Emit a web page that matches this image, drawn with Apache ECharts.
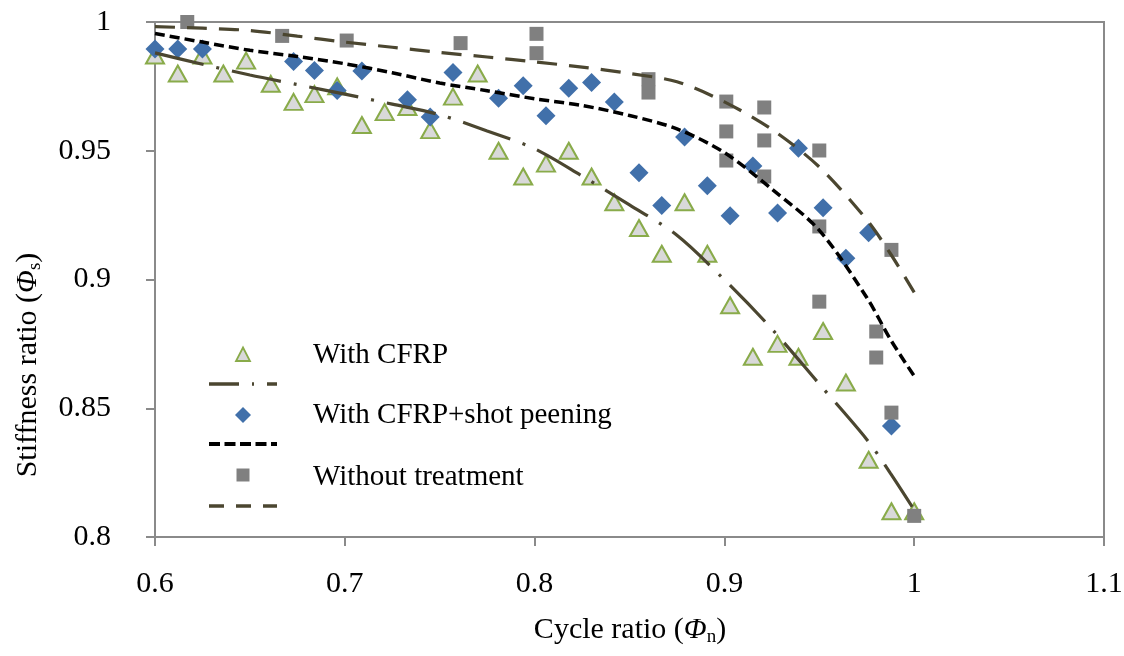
<!DOCTYPE html>
<html>
<head>
<meta charset="utf-8">
<script src="https://cdn.jsdelivr.net/npm/echarts@6/dist/echarts.min.js"></script>
<style>
html,body{margin:0;padding:0;background:#fff;}
#chart{width:1124px;height:656px;}
</style>
</head>
<body>
<div id="chart"></div>
<script>
// ---- Data ----
const xTicks = ['0.6', '0.7', '0.8', '0.9', '1', '1.1'];
const yTicks = ['0.8', '0.85', '0.9', '0.95', '1'];

const cfrpX = [0.600,0.612,0.625,0.636,0.648,0.661,0.673,0.684,0.696,0.709,0.721,0.733,0.745,0.757,0.770,0.781,0.794,0.806,0.818,0.830,0.842,0.855,0.867,0.879,0.891,0.903,0.915,0.928,0.939,0.952,0.964,0.976,0.988,1.000];
const cfrpY = [0.987,0.980,0.987,0.980,0.985,0.976,0.969,0.972,0.975,0.960,0.965,0.967,0.958,0.971,0.980,0.950,0.940,0.945,0.950,0.940,0.930,0.920,0.910,0.930,0.910,0.890,0.870,0.875,0.870,0.880,0.860,0.830,0.810,0.810];

const peenX = [0.600,0.612,0.625,0.673,0.684,0.696,0.709,0.733,0.745,0.757,0.781,0.794,0.806,0.818,0.830,0.842,0.855,0.867,0.879,0.891,0.903,0.915,0.928,0.939,0.952,0.964,0.976,0.988];
const peenY = [0.9895,0.9895,0.9895,0.9847,0.9812,0.9734,0.9810,0.9698,0.9631,0.9804,0.9704,0.9752,0.9636,0.9743,0.9765,0.9689,0.9415,0.9287,0.9553,0.9364,0.9248,0.9441,0.9258,0.9510,0.9279,0.9083,0.9182,0.8431];

const untreatedX = [0.617,0.667,0.701,0.761,0.801,0.801,0.860,0.860,0.901,0.901,0.901,0.921,0.921,0.921,0.950,0.950,0.950,0.980,0.980,0.988,0.988,1.000];
const untreatedY = [1.000,0.9946,0.9928,0.9918,0.9954,0.9879,0.9778,0.9726,0.9691,0.9575,0.9462,0.9668,0.9540,0.9400,0.9501,0.9206,0.8914,0.8798,0.8697,0.9115,0.8483,0.8082];

// fitted trend curves
const fitX         = [0.600, 0.625, 0.650, 0.675, 0.700, 0.725, 0.750, 0.775, 0.800, 0.825, 0.850, 0.875, 0.900, 0.925, 0.950, 0.975, 0.9875, 1.000];
const cfrpFit      = [0.9880, 0.9836, 0.9794, 0.9757, 0.9720, 0.9681, 0.9640, 0.9577, 0.9508, 0.9402, 0.9290, 0.9172, 0.8999, 0.8808, 0.8594, 0.8379, 0.8247, 0.8105];
const peenFit      = [0.9955, 0.9922, 0.9890, 0.9866, 0.9838, 0.9803, 0.9763, 0.9733, 0.9702, 0.9676, 0.9637, 0.9585, 0.9493, 0.9351, 0.9191, 0.8930, 0.8767, 0.8625];
const untreatedFit = [0.9982, 0.9976, 0.9967, 0.9945, 0.9922, 0.9902, 0.9882, 0.9864, 0.9845, 0.9825, 0.9800, 0.9768, 0.9690, 0.9583, 0.9437, 0.9232, 0.9100, 0.8950];

const legendNames = ['With CFRP', 'With CFRP+shot peening', 'Without treatment'];

// ---- Build ----
const zip = (xs, ys) => xs.map((x, i) => [x, ys[i]]);
const OLIVE = '#4b4630';
const AXIS = '#8a8a8a';
const FONT = '"Liberation Serif", "Times New Roman", serif';

const chart = echarts.init(document.getElementById('chart'), null, {renderer: 'canvas'});

const titleRich = {
  a: {fontFamily: FONT, fontSize: 30, fill: '#000'},
  b: {fontFamily: FONT, fontSize: 30, fontStyle: 'italic', fill: '#000'},
  c: {fontFamily: FONT, fontSize: 19, fill: '#000', padding: [15, 0, 0, 0]}
};

const option = {
  animation: false,
  backgroundColor: '#ffffff',
  grid: {
    left: 155, right: 20, top: 22, bottom: 119,
    show: true, borderColor: AXIS, borderWidth: 2,
    containLabel: false, outerBoundsMode: 'none'
  },
  xAxis: {
    type: 'value', min: 0.6, max: 1.1, interval: 0.1,
    axisLine: {show: true, onZero: false, lineStyle: {color: AXIS, width: 2}},
    axisTick: {show: true, inside: false, length: 9, lineStyle: {color: AXIS, width: 2}},
    splitLine: {show: false},
    axisLabel: {
      margin: 30, padding: [2, 0, 0, 0], color: '#000', fontFamily: FONT, fontSize: 30,
      formatter: v => xTicks[Math.round((v - 0.6) / 0.1)]
    }
  },
  yAxis: {
    type: 'value', min: 0.8, max: 1, interval: 0.05,
    axisLine: {show: true, onZero: false, lineStyle: {color: AXIS, width: 2}},
    axisTick: {show: true, inside: false, length: 9, lineStyle: {color: AXIS, width: 2}},
    splitLine: {show: false},
    axisLabel: {
      margin: 28, padding: [0, 16, 0, 0], color: '#000', fontFamily: FONT, fontSize: 30,
      formatter: v => yTicks[Math.round((v - 0.8) / 0.05)]
    }
  },
  series: [
    {
      name: legendNames[0], type: 'scatter', clip: false,
      data: zip(cfrpX, cfrpY),
      symbol: 'triangle', symbolSize: [18, 16],
      itemStyle: {color: '#d9d9d9', borderColor: '#89ab4a', borderWidth: 2, opacity: 1}
    },
    {
      name: 'CFRP fit', type: 'line', data: zip(fitX, cfrpFit),
      symbol: 'none', showSymbol: false, smooth: 0.3,
      lineStyle: {color: OLIVE, width: 3.2, type: [50, 13, 3, 13]}
    },
    {
      name: legendNames[1], type: 'scatter', clip: false,
      data: zip(peenX, peenY),
      symbol: 'diamond', symbolSize: [19, 19],
      itemStyle: {color: '#4170aa', opacity: 1}
    },
    {
      name: 'Peening fit', type: 'line', data: zip(fitX, peenFit),
      symbol: 'none', showSymbol: false, smooth: 0.3,
      lineStyle: {color: '#000000', width: 3.5, type: [10, 5]}
    },
    {
      name: legendNames[2], type: 'scatter', clip: false,
      data: zip(untreatedX, untreatedY),
      symbol: 'rect', symbolSize: [14, 14],
      itemStyle: {color: '#808080', opacity: 1}
    },
    {
      name: 'Untreated fit', type: 'line', data: zip(fitX, untreatedFit),
      symbol: 'none', showSymbol: false, smooth: 0.3,
      lineStyle: {color: OLIVE, width: 3.2, type: [20, 12]}
    }
  ],
  graphic: [
    // axis titles
    {
      type: 'text', x: 630, y: 630,
      style: {
        text: '{a|Cycle ratio (}{b|Φ}{c|n}{a|)}',
        align: 'center', verticalAlign: 'middle', rich: titleRich
      }
    },
    {
      type: 'text', x: 28, y: 365, rotation: Math.PI / 2,
      style: {
        text: '{a|Stiffness ratio (}{b|Φ}{c|s}{a|)}',
        align: 'center', verticalAlign: 'middle', rich: titleRich
      }
    },
    // legend
    {
      type: 'polygon', shape: {points: [[243, 347.5], [250, 361], [236, 361]]},
      style: {fill: '#d9d9d9', stroke: '#89ab4a', lineWidth: 1.8}
    },
    {
      type: 'text', x: 313, y: 355,
      style: {text: legendNames[0], fontFamily: FONT, fontSize: 29, fill: '#000', verticalAlign: 'middle'}
    },
    {
      type: 'line', shape: {x1: 209, y1: 384, x2: 277, y2: 384},
      style: {stroke: OLIVE, lineWidth: 3.5, lineDash: [30, 13, 2, 13]}
    },
    {
      type: 'polygon', shape: {points: [[243, 407], [251, 415], [243, 423], [235, 415]]},
      style: {fill: '#4170aa'}
    },
    {
      type: 'text', x: 313, y: 415,
      style: {text: legendNames[1], fontFamily: FONT, fontSize: 29, fill: '#000', verticalAlign: 'middle'}
    },
    {
      type: 'line', shape: {x1: 209, y1: 444, x2: 277, y2: 444},
      style: {stroke: '#000', lineWidth: 4, lineDash: [11, 4.5]}
    },
    {
      type: 'rect', shape: {x: 236.5, y: 468.5, width: 13, height: 13},
      style: {fill: '#808080'}
    },
    {
      type: 'text', x: 313, y: 477,
      style: {text: legendNames[2], fontFamily: FONT, fontSize: 29, fill: '#000', verticalAlign: 'middle'}
    },
    {
      type: 'line', shape: {x1: 209, y1: 506, x2: 277, y2: 506},
      style: {stroke: OLIVE, lineWidth: 3.5, lineDash: [15, 12]}
    }
  ]
};
chart.setOption(option);
</script>
</body>
</html>
